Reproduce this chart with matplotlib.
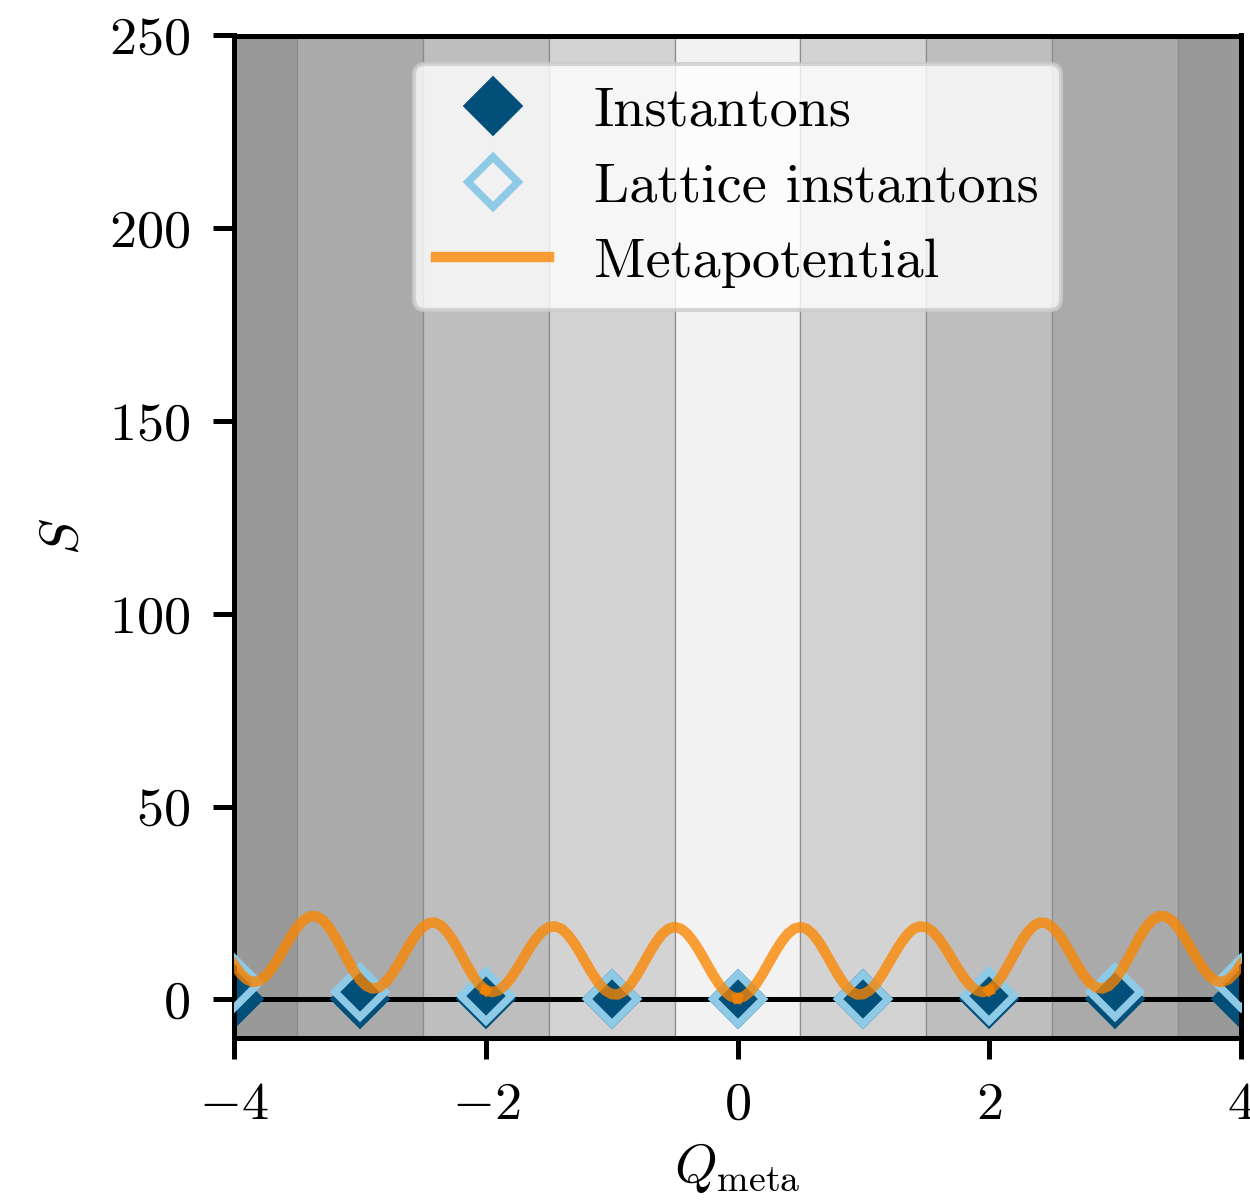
#!/usr/bin/env python3
"""
Instanton actions vs. metapotential on a shaded Q_meta background
"""

import numpy as np
import matplotlib
matplotlib.use('Agg')
import matplotlib.pyplot as plt

# --- data ------------------------------------------------------------------
# topological charge of the (lattice) instantons
Q_inst = [-4, -3, -2, -1, 0, 1, 2, 3, 4]
S_inst = [0, 0, 0, 0, 0, 0, 0, 0, 0]
S_lattice = [4.2, 2.0, 0.8, 0.2, 0.0, 0.2, 0.8, 2.0, 4.2]

# metapotential, sampled every 0.05 in Q_meta from -4 to 4
Q_meta = np.linspace(-4, 4, 161)
S_meta = [
    9.1, 6.8, 5.2, 4.5, 4.8, 6.0, 7.99, 10.55, 13.39, 16.2,
    18.66, 20.5, 21.53, 21.61, 20.73, 18.93, 16.43, 13.49, 10.41, 7.53,
    5.14, 3.52, 2.82, 3.1, 4.31, 6.29, 8.85, 11.69, 14.49, 16.96,
    18.8, 19.83, 19.92, 19.02, 17.24, 14.76, 11.86, 8.86, 6.08, 3.85,
    2.4, 1.9, 2.34, 3.6, 5.56, 8.02, 10.72, 13.4, 15.78, 17.61,
    18.72, 18.98, 18.36, 16.86, 14.71, 12.08, 9.25, 6.5, 4.1, 2.35,
    1.36, 1.28, 2.15, 3.88, 6.29, 9.12, 12.04, 14.73, 16.9, 18.31,
    18.8, 18.36, 17.04, 14.99, 12.42, 9.55, 6.68, 4.11, 2.07, 0.75,
    0.3,
    0.75, 2.07, 4.11, 6.68, 9.55, 12.42, 14.99, 17.04, 18.36, 18.8,
    18.31, 16.9, 14.73, 12.04, 9.12, 6.29, 3.88, 2.15, 1.28, 1.36,
    2.35, 4.1, 6.5, 9.25, 12.08, 14.71, 16.86, 18.36, 18.98, 18.72,
    17.61, 15.78, 13.4, 10.72, 8.02, 5.56, 3.6, 2.34, 1.9, 2.4,
    3.85, 6.08, 8.86, 11.86, 14.76, 17.24, 19.02, 19.92, 19.83, 18.8,
    16.96, 14.49, 11.69, 8.85, 6.29, 4.31, 3.1, 2.82, 3.52, 5.14,
    7.53, 10.41, 13.49, 16.43, 18.93, 20.73, 21.61, 21.53, 20.5, 18.66,
    16.2, 13.39, 10.55, 7.99, 6.0, 4.8, 4.5, 5.2, 6.8, 9.1,
]
# the curve was drawn in pieces joined at these charges
meta_pieces = [-4, -2, 0, 2, 4]

# background bands: one per integer charge, grey by |Q|
band_centers = [-4, -3, -2, -1, 0, 1, 2, 3, 4]
band_grays = ['#f2f2f2', '#d3d3d3', '#bebebe', '#aaaaaa', '#999999']

x_ticks = [-4, -2, 0, 2, 4]
y_ticks = [0, 50, 100, 150, 200, 250]

DARK_BLUE = '#02507a'
LIGHT_BLUE = '#8ecae6'
ORANGE = '#fb8500'


def main():
    plt.rcParams['font.family'] = 'serif'
    plt.rcParams['font.serif'] = ['cmr10']
    plt.rcParams['mathtext.fontset'] = 'cm'
    plt.rcParams['axes.formatter.use_mathtext'] = True
    plt.rcParams['font.size'] = 13

    fig = plt.figure(figsize=(1250 / 300, 1201 / 300), dpi=300)
    left, right, top, bottom = 234, 1241, 35.5, 1038
    ax = fig.add_axes([left / 1250, 1 - bottom / 1201,
                       (right - left) / 1250, (bottom - top) / 1201])

    # shaded bands
    for c in band_centers:
        g = band_grays[abs(c)]
        ax.axvspan(c - 0.5, c + 0.5, facecolor=g, edgecolor='#8c8c8c',
                   linewidth=0.3, zorder=0)

    ax.axhline(0, color='black', linewidth=1.2, zorder=1)

    ax.plot(Q_inst, S_inst, linestyle='none', marker='D', markersize=8.5,
            color=DARK_BLUE, markeredgecolor=DARK_BLUE, markeredgewidth=1.8,
            label='Instantons', zorder=2)
    ax.plot(Q_inst, S_lattice, linestyle='none', marker='D', markersize=8.5,
            markerfacecolor='none', markeredgecolor=LIGHT_BLUE,
            markeredgewidth=1.8, label='Lattice instantons', zorder=3)

    S_arr = np.asarray(S_meta)
    for i in range(len(meta_pieces) - 1):
        a, b = meta_pieces[i], meta_pieces[i + 1]
        m = (Q_meta >= a - 1e-9) & (Q_meta <= b + 1e-9)
        ax.plot(Q_meta[m], S_arr[m], color=ORANGE, alpha=0.78, linewidth=2.5,
                label='Metapotential' if i == 0 else None, zorder=4)

    ax.set_xlim(-4, 4)
    ax.set_ylim(-10, 250)
    ax.set_xticks(x_ticks)
    ax.set_yticks(y_ticks)
    ax.tick_params(direction='out', length=5, width=1.2, pad=5.5)
    for sp in ax.spines.values():
        sp.set_linewidth(1.2)

    ax.set_xlabel(r'$Q_\mathrm{meta}$')
    ax.set_ylabel(r'$S$')
    ax.xaxis.set_label_coords(0.5, -0.103)
    ax.yaxis.set_label_coords(-0.145, 0.5)

    ax.legend(loc='upper center', framealpha=0.8, handlelength=2.0,
              fontsize=13.5, labelspacing=0.45)

    fig.savefig('out.png', dpi=300)
    plt.close(fig)
    print("saved out.png")


if __name__ == "__main__":
    main()
